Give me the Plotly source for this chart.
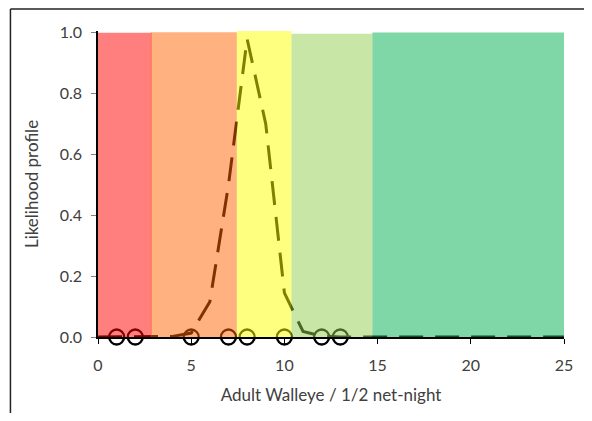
import plotly.graph_objects as go

# Likelihood profile curve
profile_x = list(range(0, 26))
profile_y = [0, 0, 0, 0, 0.002, 0.013, 0.116, 0.50, 0.98, 0.70, 0.145, 0.018, 0.003,
             0, 0, 0, 0, 0, 0, 0, 0, 0, 0, 0, 0, 0]

# Observed catch rates (open circles on the axis)
obs_x = [1, 2, 5, 7, 8, 10, 12, 13]
obs_y = [0, 0, 0, 0, 0, 0, 0, 0]

# Status bands
band_start = [0, 2.83, 7.45, 10.38, 14.72]
band_end = [2.88, 7.45, 10.38, 14.72, 25]
band_top = [1.0, 1.002, 1.006, 0.997, 1.001]
band_colors = ["#FF0000", "#FF6600", "#FFFF00", "#92D050", "#00B050"]

x_ticks = [0, 5, 10, 15, 20, 25]
y_ticks = [0.0, 0.2, 0.4, 0.6, 0.8, 1.0]

FONT = "Lato"
TXT = "#404040"

fig = go.Figure()
fig.add_trace(go.Scatter(
    x=profile_x, y=profile_y, mode="lines",
    line=dict(color="black", width=3, dash="24px,12px"),
    hoverinfo="skip", showlegend=False, cliponaxis=False,
))
fig.add_trace(go.Scatter(
    x=obs_x, y=obs_y, mode="markers",
    marker=dict(symbol="circle-open", size=15, color="black", line=dict(width=2.3, color="black")),
    showlegend=False, cliponaxis=False,
))

shapes = []
for s, e, t, c in zip(band_start, band_end, band_top, band_colors):
    shapes.append(dict(type="rect", xref="x", yref="y", x0=s, x1=e, y0=0, y1=t,
                       fillcolor=c, opacity=0.5, line=dict(width=0), layer="above"))
# outer frame (top and left edge of the cropped figure)
shapes.append(dict(type="line", xref="paper", yref="paper", x0=-0.1879, x1=1.05, y0=1.0718, y1=1.0718,
                   line=dict(color="#222222", width=1.5)))
shapes.append(dict(type="line", xref="paper", yref="paper", x0=-0.1879, x1=-0.1879, y0=1.0718, y1=-0.3,
                   line=dict(color="#222222", width=1.5)))

fig.update_layout(
    width=576, height=405,
    margin=dict(l=90, r=11, t=23, b=72),
    paper_bgcolor="white", plot_bgcolor="white",
    font=dict(family=FONT, size=16, color=TXT),
    shapes=shapes,
    xaxis=dict(
        range=[0, 25], tickvals=x_ticks, ticktext=[str(v) for v in x_ticks],
        showline=True, linecolor="black", linewidth=1.5,
        ticks="outside", ticklen=5, tickcolor="black", tickwidth=1,
        ticklabelstandoff=8,
        showgrid=False, zeroline=False,
        title=dict(text="Adult Walleye / 1/2 net-night", standoff=16, font=dict(size=17, color=TXT)),
    ),
    yaxis=dict(
        range=[0, 1.006], tickvals=y_ticks, ticktext=[f"{v:.1f}" for v in y_ticks],
        showline=True, linecolor="black", linewidth=1.5,
        ticks="outside", ticklen=5, tickcolor="#808080", tickwidth=1,
        ticklabelstandoff=6,
        showgrid=False, zeroline=False,
        title=dict(text="Likelihood profile", standoff=17, font=dict(size=17, color=TXT)),
    ),
)

fig.write_html("out.html")
